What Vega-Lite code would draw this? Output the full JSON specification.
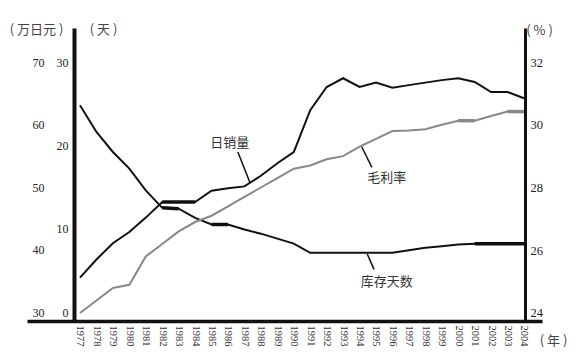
{
  "$schema": "https://vega.github.io/schema/vega-lite/v6.json",
  "width": 515,
  "height": 293,
  "autosize": {"type": "none"},
  "padding": {"left": 27, "top": 28, "right": 41, "bottom": 35},
  "background": "white",
  "config": {
    "view": {"stroke": null},
    "axis": {
      "grid": false,
      "labelFont": "Liberation Serif",
      "labelColor": "#222",
      "titleFont": "Noto Sans CJK SC",
      "titleFontWeight": "normal",
      "titleColor": "#444",
      "titleFontSize": 13
    },
    "text": {"font": "Noto Sans CJK SC", "fontSize": 13, "color": "#333"}
  },
  "datasets": {
    "series": [
      {"year": 1977, "sales": 35.5, "days": 24.8, "margin": 24.0},
      {"year": 1978, "sales": 38.4, "days": 21.6, "margin": 24.4},
      {"year": 1979, "sales": 41.0, "days": 19.2, "margin": 24.8},
      {"year": 1980, "sales": 42.8, "days": 17.2, "margin": 24.9},
      {"year": 1981, "sales": 45.1, "days": 14.6, "margin": 25.8},
      {"year": 1982, "sales": 47.6, "days": 12.5, "margin": 26.2},
      {"year": 1983, "sales": 47.6, "days": 12.4, "margin": 26.6},
      {"year": 1984, "sales": 47.6, "days": 11.3, "margin": 26.9},
      {"year": 1985, "sales": 49.4, "days": 10.5, "margin": 27.1},
      {"year": 1986, "sales": 49.8, "days": 10.5, "margin": 27.4},
      {"year": 1987, "sales": 50.1, "days": 9.9, "margin": 27.7},
      {"year": 1988, "sales": 51.8, "days": 9.4, "margin": 28.0},
      {"year": 1989, "sales": 53.8, "days": 8.8, "margin": 28.3},
      {"year": 1990, "sales": 55.6, "days": 8.2, "margin": 28.6},
      {"year": 1991, "sales": 62.3, "days": 7.1, "margin": 28.7},
      {"year": 1992, "sales": 66.0, "days": 7.1, "margin": 28.9},
      {"year": 1993, "sales": 67.4, "days": 7.1, "margin": 29.0},
      {"year": 1994, "sales": 66.0, "days": 7.1, "margin": 29.3},
      {"year": 1995, "sales": 66.7, "days": 7.1, "margin": 29.55},
      {"year": 1996, "sales": 65.9, "days": 7.1, "margin": 29.8},
      {"year": 1997, "sales": 66.3, "days": 7.4, "margin": 29.82},
      {"year": 1998, "sales": 66.7, "days": 7.7, "margin": 29.86},
      {"year": 1999, "sales": 67.1, "days": 7.9, "margin": 30.0},
      {"year": 2000, "sales": 67.4, "days": 8.1, "margin": 30.13},
      {"year": 2001, "sales": 66.8, "days": 8.2, "margin": 30.13},
      {"year": 2002, "sales": 65.2, "days": 8.2, "margin": 30.28},
      {"year": 2003, "sales": 65.2, "days": 8.2, "margin": 30.42},
      {"year": 2004, "sales": 64.2, "days": 8.2, "margin": 30.42}
    ],
    "notes": [
      {"key": "sales", "label": "日销量", "year": 1986.1, "v": 57.0, "year2": 1987.35, "v1": 55.6, "v2": 50.6, "lyear": 1986.6},
      {"key": "margin", "label": "毛利率", "year": 1995.65, "v": 28.29, "year2": 1994.75, "v1": 29.3, "v2": 28.64, "lyear": 1994.13},
      {"key": "days", "label": "库存天数", "year": 1995.65, "v": 3.64, "year2": 1994.88, "v1": 6.96, "v2": 5.12, "lyear": 1994.47}
    ]
  },
  "encoding": {
    "x": {
      "field": "year",
      "type": "quantitative",
      "scale": {"domain": [1973.777, 2005.095], "nice": false, "zero": false},
      "axis": {
        "values": [1977, 1978, 1979, 1980, 1981, 1982, 1983, 1984, 1985, 1986, 1987, 1988, 1989, 1990, 1991, 1992, 1993, 1994, 1995, 1996, 1997, 1998, 1999, 2000, 2001, 2002, 2003, 2004],
        "format": "d",
        "labelAngle": 90,
        "labelFontSize": 10.5,
        "labelColor": "#333",
        "labelPadding": 4,
        "ticks": false,
        "tickSize": 0,
        "domainColor": "#111",
        "domainWidth": 3.5,
        "labelFlush": false,
        "labelOverlap": false,
        "title": "( 年 )",
        "titleAngle": 0,
        "titleAlign": "center",
        "titleBaseline": "middle",
        "titleX": 526,
        "titleY": 19
      }
    }
  },
  "layer": [
    {
      "layer": [
        {
          "data": {"name": "series"},
          "mark": {"type": "line", "color": "#111", "strokeWidth": 2},
          "encoding": {
            "y": {
              "field": "sales",
              "type": "quantitative",
              "scale": {"domain": [28.56, 75.44], "nice": false, "zero": false},
              "axis": {
                "orient": "left",
                "offset": -23,
                "values": [30, 40, 50, 60, 70],
                "domain": false,
                "ticks": false,
                "tickSize": 0,
                "labelPadding": 6,
                "labelFontSize": 12,
                "title": "( 万日元 )",
                "titleAngle": 0,
                "titleAlign": "center",
                "titleBaseline": "middle",
                "titleX": -14,
                "titleY": 1
              }
            }
          }
        },
        {
          "data": {"name": "series"},
          "transform": [{"filter": "datum.year >= 1982 && datum.year <= 1984"}],
          "mark": {"type": "line", "color": "#111", "strokeWidth": 3.5},
          "encoding": {"y": {"field": "sales", "type": "quantitative"}}
        },
        {
          "data": {"name": "notes"},
          "transform": [{"filter": "datum.key === 'sales'"}],
          "mark": {"type": "text"},
          "encoding": {
            "y": {"field": "v", "type": "quantitative"},
            "text": {"field": "label"}
          }
        },
        {
          "data": {"name": "notes"},
          "transform": [{"filter": "datum.key === 'sales'"}],
          "mark": {"type": "rule", "color": "#111", "strokeWidth": 1.5},
          "encoding": {
            "x": {"field": "lyear", "type": "quantitative"},
            "x2": {"field": "year2"},
            "y": {"field": "v1", "type": "quantitative"},
            "y2": {"field": "v2"}
          }
        }
      ]
    },
    {
      "layer": [
        {
          "data": {"name": "series"},
          "mark": {"type": "line", "color": "#111", "strokeWidth": 2},
          "encoding": {
            "y": {
              "field": "days",
              "type": "quantitative",
              "scale": {"domain": [-1.08, 34.08], "nice": false, "zero": false},
              "axis": {
                "orient": "left",
                "offset": -47,
                "values": [0, 10, 20, 30],
                "domain": true,
                "domainColor": "#111",
                "domainWidth": 4,
                "ticks": false,
                "tickSize": 0,
                "labelPadding": 6,
                "labelFontSize": 12,
                "title": "( 天 )",
                "titleAngle": 0,
                "titleAlign": "center",
                "titleBaseline": "middle",
                "titleX": 29,
                "titleY": 1
              }
            }
          }
        },
        {
          "data": {"name": "series"},
          "transform": [{"filter": "datum.year >= 1982 && datum.year <= 1983"}],
          "mark": {"type": "line", "color": "#111", "strokeWidth": 3.5},
          "encoding": {"y": {"field": "days", "type": "quantitative"}}
        },
        {
          "data": {"name": "series"},
          "transform": [{"filter": "datum.year >= 1985 && datum.year <= 1986"}],
          "mark": {"type": "line", "color": "#111", "strokeWidth": 3.5},
          "encoding": {"y": {"field": "days", "type": "quantitative"}}
        },
        {
          "data": {"name": "series"},
          "transform": [{"filter": "datum.year >= 2001"}],
          "mark": {"type": "line", "color": "#111", "strokeWidth": 3.5},
          "encoding": {"y": {"field": "days", "type": "quantitative"}}
        },
        {
          "data": {"name": "notes"},
          "transform": [{"filter": "datum.key === 'days'"}],
          "mark": {"type": "text"},
          "encoding": {
            "y": {"field": "v", "type": "quantitative"},
            "text": {"field": "label"}
          }
        },
        {
          "data": {"name": "notes"},
          "transform": [{"filter": "datum.key === 'days'"}],
          "mark": {"type": "rule", "color": "#111", "strokeWidth": 1.5},
          "encoding": {
            "x": {"field": "lyear", "type": "quantitative"},
            "x2": {"field": "year2"},
            "y": {"field": "v1", "type": "quantitative"},
            "y2": {"field": "v2"}
          }
        }
      ]
    },
    {
      "layer": [
        {
          "data": {"name": "series"},
          "mark": {"type": "line", "color": "#888", "strokeWidth": 2},
          "encoding": {
            "y": {
              "field": "margin",
              "type": "quantitative",
              "scale": {"domain": [23.745, 33.084], "nice": false, "zero": false},
              "axis": {
                "orient": "right",
                "offset": -17,
                "values": [24, 26, 28, 30, 32],
                "domain": true,
                "domainColor": "#111",
                "domainWidth": 3,
                "ticks": false,
                "tickSize": 0,
                "labelPadding": 5,
                "labelFontSize": 12.5,
                "title": "( % )",
                "titleAngle": 0,
                "titleAlign": "center",
                "titleBaseline": "middle",
                "titleX": 14,
                "titleY": 2
              }
            }
          }
        },
        {
          "data": {"name": "series"},
          "transform": [{"filter": "datum.year >= 2000 && datum.year <= 2001"}],
          "mark": {"type": "line", "color": "#888", "strokeWidth": 3.5},
          "encoding": {"y": {"field": "margin", "type": "quantitative"}}
        },
        {
          "data": {"name": "series"},
          "transform": [{"filter": "datum.year >= 2003"}],
          "mark": {"type": "line", "color": "#888", "strokeWidth": 3.5},
          "encoding": {"y": {"field": "margin", "type": "quantitative"}}
        },
        {
          "data": {"name": "notes"},
          "transform": [{"filter": "datum.key === 'margin'"}],
          "mark": {"type": "text"},
          "encoding": {
            "y": {"field": "v", "type": "quantitative"},
            "text": {"field": "label"}
          }
        },
        {
          "data": {"name": "notes"},
          "transform": [{"filter": "datum.key === 'margin'"}],
          "mark": {"type": "rule", "color": "#111", "strokeWidth": 1.5},
          "encoding": {
            "x": {"field": "lyear", "type": "quantitative"},
            "x2": {"field": "year2"},
            "y": {"field": "v1", "type": "quantitative"},
            "y2": {"field": "v2"}
          }
        }
      ]
    }
  ],
  "resolve": {"scale": {"y": "independent"}, "axis": {"y": "independent"}}
}
